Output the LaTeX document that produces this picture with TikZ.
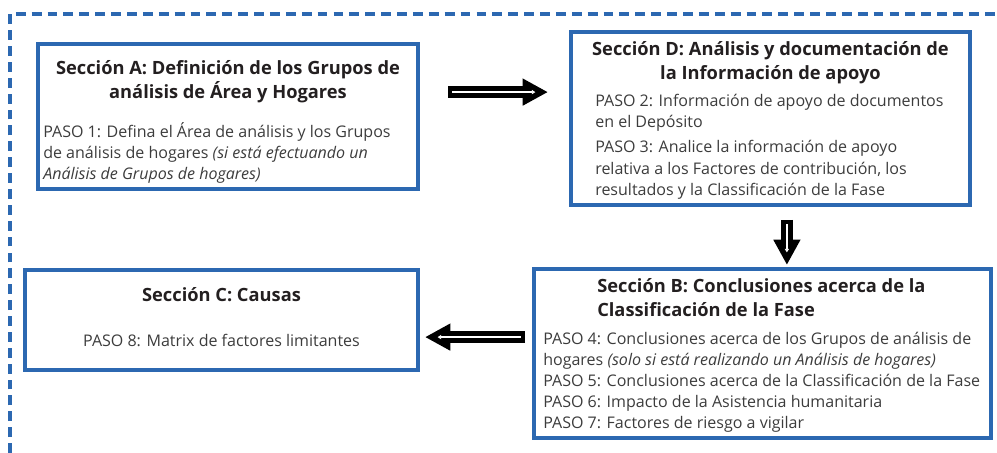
\documentclass[tikz,border=0pt]{standalone}
\usepackage{fontspec}
\setmainfont{Open Sans}
\usetikzlibrary{arrows.meta,positioning,calc}
\definecolor{frameblue}{RGB}{44,104,177}
\definecolor{titlegray}{RGB}{35,31,32}
\definecolor{bodygray}{RGB}{60,60,60}

\begin{document}
\begin{tikzpicture}[
    section/.style={rectangle, draw=frameblue, line width=0.1cm, inner sep=0pt, anchor=north west},
    heading/.style={font=\fontsize{13}{17.2}\selectfont\bfseries, text=titlegray, inner sep=0pt},
    steps/.style={font=\fontsize{11.4}{15}\selectfont, text=bodygray, inner sep=0pt, align=left},
    fatarrow/.style={draw=black, line width=8.4pt, -{Triangle[length=18pt,width=18pt]}, shorten >=#1,
        postaction={draw=white, line width=1.2pt, shorten <=3pt, shorten >=#1+9pt, -{Triangle[length=2.5pt,width=3pt]}}}]

    \useasboundingbox (0,0) rectangle (24.925,-11.325);
    % dashed frame round the steps
    \draw[frameblue, line width=2.5pt, dash pattern=on 7pt off 4.3pt] (0.25,-11.325) -- (0.25,-0.35) -- (24.925,-0.35);

    \node[section, minimum width=9.5cm, minimum height=3.625cm] (boxA) at (0.9,-1.05) {};
    \node[section, minimum width=9.975cm, minimum height=4.325cm] (boxD) at (14.225,-0.75) {};
    \node[section, minimum width=9.825cm, minimum height=2.5cm] (boxC) at (0.575,-6.7) {};
    \node[section, minimum width=11.425cm, minimum height=4.225cm] (boxB) at (13.3,-6.675) {};

    \node[heading, align=center, below=0.45cm of boxA.north] (titleA) {Sección A: Definición de los Grupos de\\análisis de Área y Hogares};
    \node[steps, below right=2.0cm and 0.175cm of boxA.north west] (stepsA) {PASO 1: Defina el Área de análisis y los Grupos\\de análisis de hogares \textit{(si está efectuando un}\\\textit{Análisis de Grupos de hogares)}};

    \node[heading, align=center, below=0.275cm of boxD.north] (titleD) {Sección D: Análisis y documentación de\\la Información de apoyo};
    \node[steps, below right=1.6cm and 0.65cm of boxD.north west] (stepsD) {PASO 2: Información de apoyo de documentos\\en el Depósito\\[3pt]PASO 3: Analice la información de apoyo\\relativa a los Factores de contribución, los\\resultados y la Classificación de la Fase};

    \node[heading, below=0.475cm of boxC.north] (titleC) {Sección C: Causas};
    \node[steps, below=1.65cm of boxC.north] (stepsC) {PASO 8: Matrix de factores limitantes};

    \node[heading, align=left, below right=0.275cm and 1.625cm of boxB.north west] (titleB) {Sección B: Conclusiones acerca de la\\Classificación de la Fase};
    \node[steps, below right=1.62cm and 0.275cm of boxB.north west] (stepsB) {PASO 4: Conclusiones acerca de los Grupos de análisis de\\hogares \textit{(solo si está realizando un Análisis de hogares)}\\PASO 5: Conclusiones acerca de la Classificación de la Fase\\PASO 6: Impacto de la Asistencia humanitaria\\PASO 7: Factores de riesgo a vigilar};

    \coordinate (adTail) at ([shift={(0.7,0.61)}]boxA.east);
    \coordinate (dbTail) at ([shift={(0.41,-0.325)}]boxD.south);
    \coordinate (bcTail) at ([shift={(-0.175,0.41)}]boxB.west);
    \draw[fatarrow=0.525cm] (adTail) -- (adTail -| boxD.west);
    \draw[fatarrow=0.05cm] (dbTail) -- (dbTail |- boxB.north);
    \draw[fatarrow=0.125cm] (bcTail) -- (bcTail -| boxC.east);
\end{tikzpicture}
\end{document}
